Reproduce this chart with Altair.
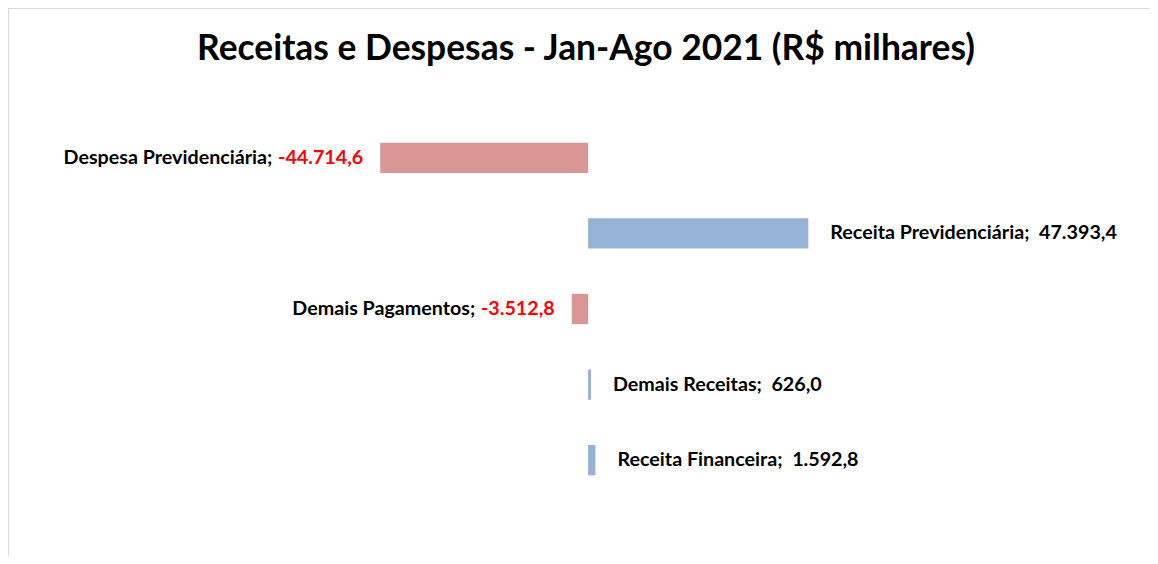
import altair as alt
import pandas as pd

categories = ["Despesa Previdenciária", "Receita Previdenciária", "Demais Pagamentos",
              "Demais Receitas", "Receita Financeira"]
values = [-44714.6, 47393.4, -3512.8, 626.0, 1592.8]
value_labels = ["-44.714,6", "47.393,4", "-3.512,8", "626,0", "1.592,8"]

W, H = 1142, 548
X_DOMAIN = [-124800, 120900]
FONT = "Lato"
FS = 19.7
UNITS_PER_PX = (X_DOMAIN[1] - X_DOMAIN[0]) / W


def text_width(s, fs=FS):
    # approximate advance widths of Lato Bold glyphs (em units)
    w = 0.0
    for ch in s:
        if ch.isdigit():
            w += 0.58
        elif ch in ".,":
            w += 0.26
        elif ch == "-":
            w += 0.34
        else:
            w += 0.5
    return w * fs


df = pd.DataFrame({"cat": categories, "value": values, "vlabel": value_labels})
df["name"] = [c + ";" for c in categories]
df["full"] = [c + ";\u00a0\u00a0" + l for c, l in zip(categories, value_labels)]
df["color"] = ["#D99694" if v < 0 else "#95B3D7" for v in values]
# shift (in data units) so the black name ends where the red value text begins
df["name_shift"] = [-(text_width(l) + 0.27 * FS) * UNITS_PER_PX for l in value_labels]

xs = alt.Scale(domain=X_DOMAIN, nice=False, zero=False)
x = alt.X("value:Q", scale=xs, axis=None)
y = alt.Y("cat:N", sort=categories,
          scale=alt.Scale(range=[112, 490], paddingInner=0.6, paddingOuter=0.3), axis=None)

base = alt.Chart(df)

bars = base.mark_bar().encode(x=x, x2=alt.datum(0), y=y,
                              color=alt.Color("color:N", scale=None))

txt = dict(baseline="middle", font=FONT, fontSize=FS, fontWeight="bold")

neg_name = base.transform_filter("datum.value < 0").transform_calculate(
    name_x="datum.value + datum.name_shift").mark_text(
    align="right", dx=-17, color="#000000", **txt).encode(
    x=alt.X("name_x:Q", scale=xs, axis=None), y=y, text="name:N")
neg_val = base.transform_filter("datum.value < 0").mark_text(
    align="right", dx=-17, color="#FF0000", **txt).encode(x=x, y=y, text="vlabel:N")
pos_full = base.transform_filter("datum.value > 0").mark_text(
    align="left", dx=22, color="#000000", **txt).encode(x=x, y=y, text="full:N")

frame_top = alt.Chart(alt.Data(values=[{}])).mark_rule(color="#D9D9D9", strokeWidth=2).encode(
    x=alt.value(0), x2=alt.value(W), y=alt.value(0))
frame_left = alt.Chart(alt.Data(values=[{}])).mark_rule(color="#D9D9D9", strokeWidth=2).encode(
    x=alt.value(0), y=alt.value(0), y2=alt.value(H))

chart = alt.layer(frame_top, frame_left, bars, neg_name, neg_val, pos_full).properties(
    width=W, height=H, padding=0, autosize=alt.AutoSizeParams(type="none"),
    background="white",
    title=alt.TitleParams("Receitas e Despesas - Jan-Ago 2021 (R$ milhares)",
                          font=FONT, fontSize=35.4, fontWeight="bold", color="#000000",
                          anchor="middle", offset=-88, baseline="alphabetic", dx=7,
                          frame="group"),
).configure_view(stroke=None)

chart.save("out.html", embed_options={"renderer": "svg", "actions": False})
